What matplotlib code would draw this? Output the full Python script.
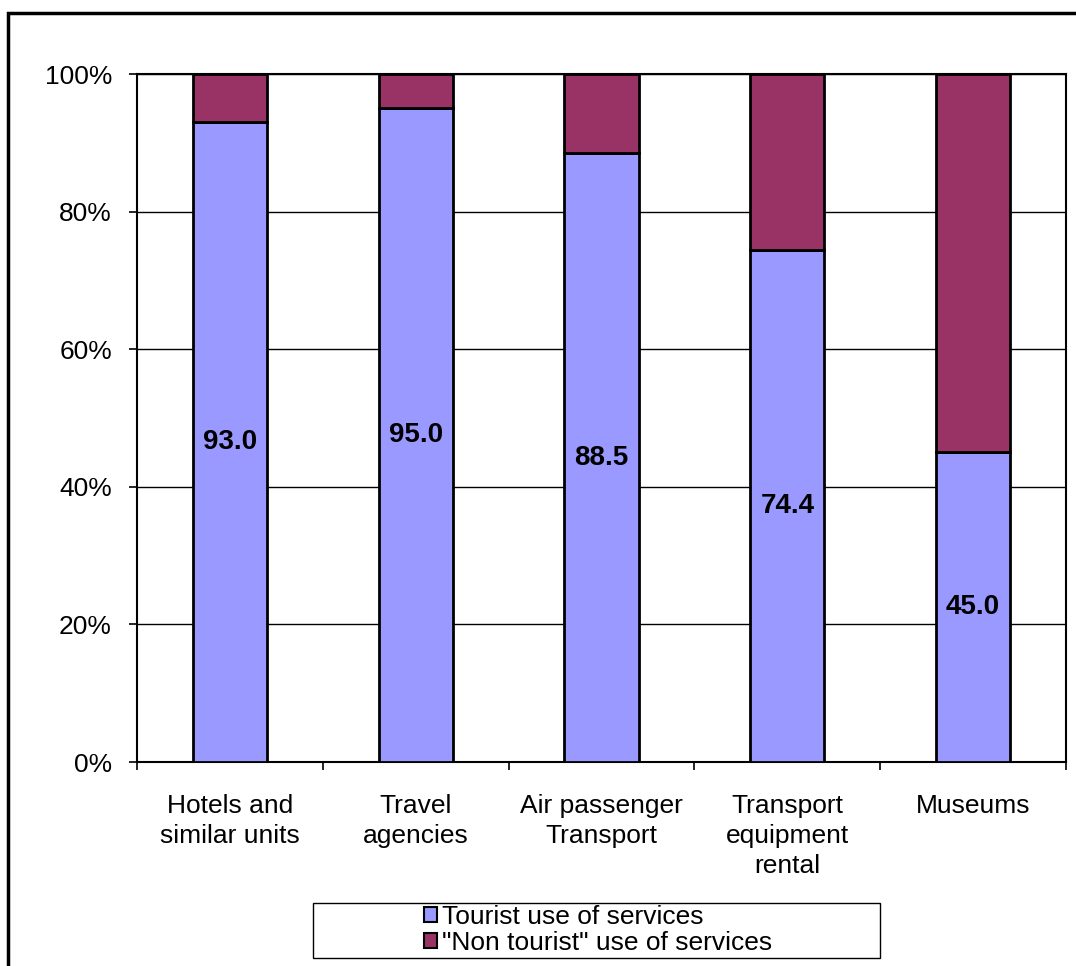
"""
Tourist vs non tourist use of services, 100% stacked bars.
"""

import matplotlib
matplotlib.use("Agg")
import matplotlib.pyplot as plt
from matplotlib.patches import Rectangle, Patch
import numpy as np

categories = ["Hotels and\nsimilar units", "Travel\nagencies", "Air passenger\nTransport",
              "Transport\nequipment\nrental", "Museums"]
tourist = [93.0, 95.0, 88.5, 74.4, 45.0]
non_tourist = [7.0, 5.0, 11.5, 25.6, 55.0]
series_names = ["Tourist use of services", '"Non tourist" use of services']
colors = ["#9999FF", "#993366"]

plt.rcParams['font.family'] = ['Liberation Sans', 'DejaVu Sans']

W, H = 1076, 966
fig = plt.figure(figsize=(W / 100, H / 100), dpi=100)
ax = fig.add_axes([137 / W, 1 - 762 / H, (1066 - 137) / W, (762 - 74) / H])

x = np.arange(len(categories))
ax.bar(x, tourist, width=0.4, color=colors[0], edgecolor="black", linewidth=2, zorder=3)
ax.bar(x, non_tourist, width=0.4, bottom=tourist, color=colors[1],
       edgecolor="black", linewidth=2, zorder=3)

for xi, v in zip(x, tourist):
    ax.text(xi, v / 2, f"{v:.1f}", ha="center", va="center",
            fontsize=20, fontweight="bold", zorder=4)

ax.set_xlim(-0.5, len(categories) - 0.5)
ax.set_ylim(0, 100)
ax.set_yticks(range(0, 101, 20))
ax.set_yticklabels([f"{v}%" for v in range(0, 101, 20)])
ax.yaxis.grid(True, color="black", linewidth=1, zorder=0)

ax.set_xticks(x)
ax.set_xticklabels(categories, linespacing=1.32)
ax.set_xticks(np.arange(-0.5, len(categories)), minor=True)
ax.tick_params(axis="x", which="major", length=0, pad=23, labelsize=19)
ax.tick_params(axis="x", which="minor", length=6, width=1.2, direction="out")
ax.tick_params(axis="y", length=6, width=1.2, pad=12, labelsize=19)

for s in ax.spines.values():
    s.set_linewidth(1.5)

# outer chart border (only top and left visible)
fig.patches.append(Rectangle((8 / W, -0.1), 2, 1 - 13 / H + 0.1, transform=fig.transFigure,
                             fill=False, edgecolor="black", linewidth=2.5))

# legend box
fig.patches.append(Rectangle((313 / W, 1 - 958 / H), (880 - 313) / W, (958 - 903) / H,
                             transform=fig.transFigure, fill=False,
                             edgecolor="black", linewidth=1))
handles = [Patch(facecolor=c, edgecolor="black", linewidth=1.5) for c in colors]
fig.legend(handles, series_names, loc="center", bbox_to_anchor=(598 / W, 1 - 930 / H),
           frameon=False, fontsize=19, handlelength=0.5, handleheight=0.5,
           handletextpad=0.2, labelspacing=0.1, borderpad=0)

fig.savefig("out.png", dpi=100)
